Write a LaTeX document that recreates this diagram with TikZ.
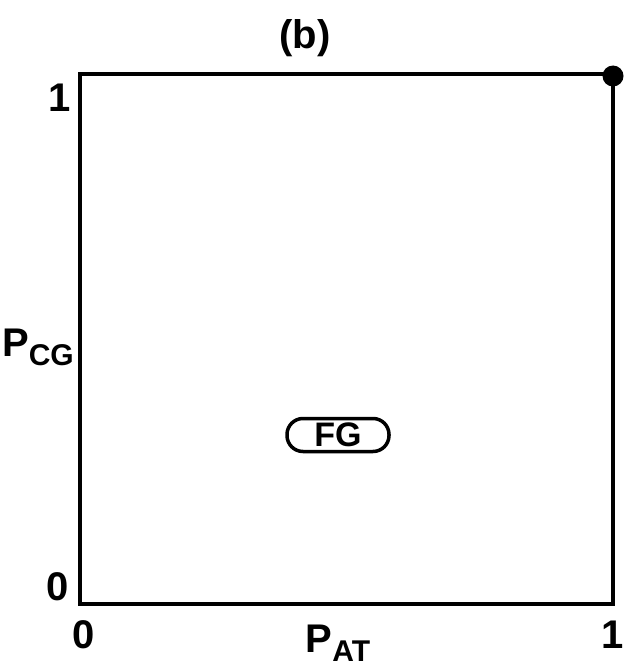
\documentclass[tikz,border=0pt]{standalone}
\usepackage{fontspec}
\setmainfont{Liberation Sans}
\begin{document}
\begin{tikzpicture}[x=1pt,y=-1pt,
  lbl/.style={font=\fontsize{40}{40}\selectfont\bfseries, inner sep=0pt},
  frame/.style={line width=4.5pt, line cap=rect}]
\useasboundingbox (0,0) rectangle (625,669);
\coordinate (bl) at (80,604);
\coordinate (tr) at (613,74);
\draw[frame] (bl) rectangle (tr);
\node[circle, fill=black, minimum size=21pt, inner sep=0pt] (dot) at (613,76) {};
\node[lbl] (title) at (305,38) {(b)};
\node[lbl] (y1) at (60,98) {1};
\node[lbl] (y0) at (58,587) {0};
\node[lbl] (x0) at (84,635) {0};
\node[lbl] (x1) at (613,635) {1};
\node[lbl, anchor=base] (pat) at (338,652) {P\raisebox{-9pt}{\fontsize{30}{30}\selectfont AT}};
\node[lbl, anchor=base] (pcg) at (38,356) {P\raisebox{-9pt}{\fontsize{30}{30}\selectfont CG}};
\node[draw, line width=3.5pt, rounded corners=16pt, minimum width=102pt, minimum height=33pt, inner sep=0pt, font=\fontsize{34}{34}\selectfont\bfseries] (fg) at (338,435) {FG};
\end{tikzpicture}
\end{document}
